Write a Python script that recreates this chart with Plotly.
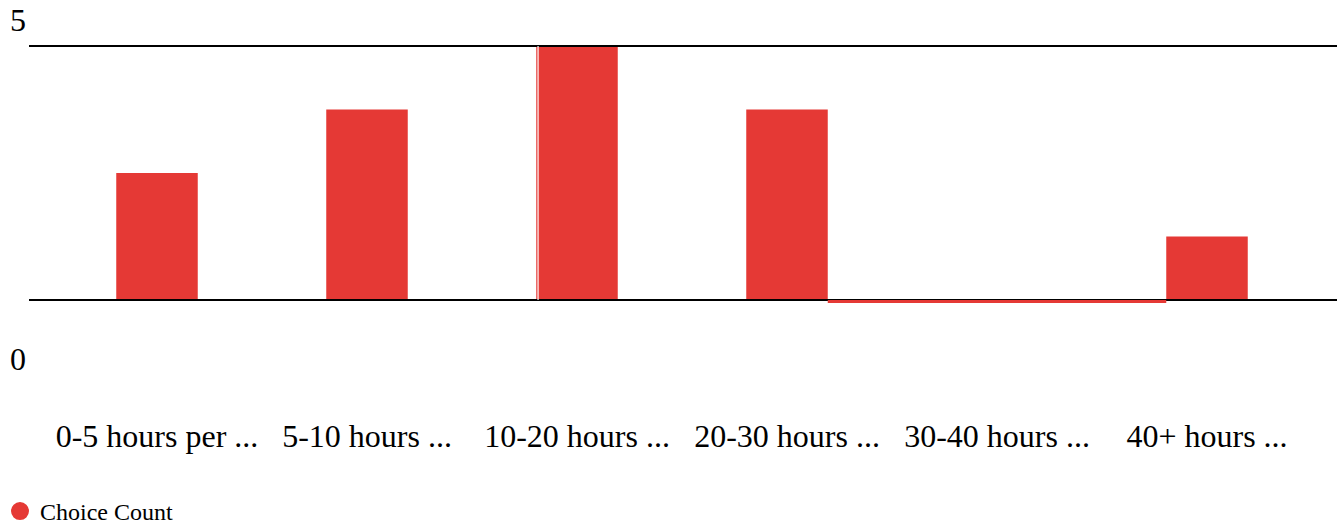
import plotly.graph_objects as go

# Hours-per-week buckets and how many respondents picked each one
categories = [
    "0-5 hours per ...",
    "5-10 hours ...",
    "10-20 hours ...",
    "20-30 hours ...",
    "30-40 hours ...",
    "40+ hours ...",
]
counts = [2, 3, 4, 3, 0, 1]
series_name = "Choice Count"
axis_labels = ["5", "0"]

RED = "#e53935"
FONT = "Liberation Serif, Times New Roman, serif"

W, H = 1342, 525
# plot area in pixels
L, R, T, B = 52, 1312, 33, 313
PX_PER_UNIT = 63.5          # vertical pixels per count
ZERO_PX = 300               # pixel row of count 0
BAR_FRAC = 81.5 / 210       # bar width as fraction of category slot

y_top = (ZERO_PX - T) / PX_PER_UNIT
y_bot = -(B - ZERO_PX) / PX_PER_UNIT


def px_x(px):
    return (px - L) / (R - L)


def px_y(py):
    return (B - py) / (B - T)


fig = go.Figure()
fig.add_trace(go.Bar(
    x=categories, y=counts, marker=dict(color=RED, line=dict(width=0)),
    showlegend=False, name=series_name,
))
# legend entry drawn with a round swatch
fig.add_trace(go.Scatter(
    x=[None], y=[None], mode="markers", name=series_name,
    marker=dict(color=RED, size=16, symbol="circle",
                line=dict(color=RED, width=2)),
))

y_max = max(counts)
shapes = []
# horizontal rules at zero and at the maximum count
for yv in (0, y_max):
    shapes.append(dict(
        type="line", xref="paper", yref="y",
        x0=px_x(29), x1=px_x(1337), y0=yv, y1=yv,
        line=dict(color="black", width=2), layer="above",
    ))
# zero-height bars render as a thin strip along the baseline
half = BAR_FRAC / 2
for i, v in enumerate(counts):
    if v == 0:
        shapes.append(dict(
            type="rect", xref="x", yref="y", ysizemode="pixel", yanchor=0,
            x0=i - 1 + half, x1=i + 1 - half, y0=-3, y1=0,
            fillcolor=RED, line=dict(width=0), layer="above",
        ))
# hairline seam near the left edge of the tallest bar
i_max = counts.index(y_max)
seam_x = i_max - half + 1.8 / 210
shapes.append(dict(
    type="line", xref="x", yref="y", x0=seam_x, x1=seam_x, y0=0, y1=y_max,
    line=dict(color="white", width=1.2), layer="above",
))

annotations = [
    dict(text=axis_labels[0], xref="paper", yref="paper", x=px_x(17.5), y=px_y(20.5),
         xanchor="center", yanchor="middle", showarrow=False,
         font=dict(family=FONT, size=32, color="black")),
    dict(text=axis_labels[1], xref="paper", yref="paper", x=px_x(17.5), y=px_y(359),
         xanchor="center", yanchor="middle", showarrow=False,
         font=dict(family=FONT, size=32, color="black")),
]

fig.update_layout(
    width=W, height=H,
    margin=dict(l=L, r=W - R, t=T, b=H - B, pad=0, autoexpand=False),
    paper_bgcolor="white", plot_bgcolor="white",
    bargap=1 - BAR_FRAC,
    shapes=shapes, annotations=annotations,
    font=dict(family=FONT, color="black"),
    showlegend=True,
    legend=dict(
        x=px_x(0), y=px_y(489), xanchor="left", yanchor="top",
        orientation="h", bgcolor="rgba(0,0,0,0)", borderwidth=0,
        font=dict(family=FONT, size=24, color="black"),
    ),
    xaxis=dict(
        type="category", range=[-0.5, len(categories) - 0.5],
        showgrid=False, zeroline=False, showline=False, ticks="",
        tickfont=dict(family=FONT, size=32, color="black"),
        ticklabelstandoff=101, fixedrange=True, automargin=False,
    ),
    yaxis=dict(
        range=[y_bot, y_top], showgrid=False, zeroline=False, showline=False,
        showticklabels=False, ticks="", fixedrange=True, automargin=False,
    ),
)

fig.write_html("out.html", config={"displayModeBar": False})
